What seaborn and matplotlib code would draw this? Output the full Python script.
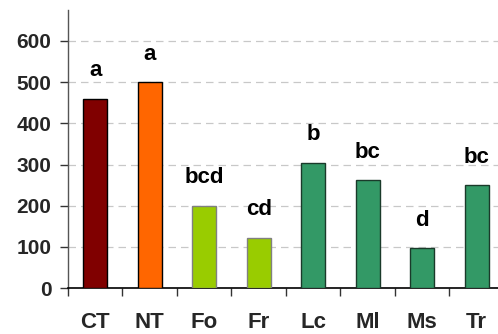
import numpy as np
import pandas as pd
import matplotlib
matplotlib.use("Agg")
import matplotlib.pyplot as plt
import seaborn as sns

# values
treatments = ["CT", "NT", "Fo", "Fr", "Lc", "Ml", "Ms", "Tr"]
values = [460, 500, 200, 122, 304, 262, 96, 249]
letters = ["a", "a", "bcd", "cd", "b", "bc", "d", "bc"]
colors = ["#800000", "#FF6600", "#99CC00", "#99CC00",
          "#339966", "#339966", "#339966", "#339966"]
edges = ["#000000", "#000000", "#808080", "#808080",
         "#1a3a2a", "#1a3a2a", "#1a3a2a", "#1a3a2a"]

df = pd.DataFrame({"treatment": treatments, "value": values})

sns.set_style("white")
plt.rcParams["font.family"] = ["Liberation Sans", "DejaVu Sans"]

fig = plt.figure(figsize=(4.98, 3.34), dpi=100)
ax = fig.add_axes([0.1365, 0.1377, 0.8755, 0.832])

sns.barplot(data=df, x="treatment", y="value", hue="treatment",
            palette=colors, saturation=1, width=0.44, legend=False,
            ax=ax, zorder=3)
for bar, ec in zip(ax.patches, edges):
    bar.set_edgecolor(ec)
    bar.set_linewidth(1.0)

for i, (v, lab) in enumerate(zip(values, letters)):
    ax.text(i, v + 68, lab, ha="center", va="center",
            fontsize=16, fontweight="bold", color="black")

ax.set_xlim(-0.5, 7.5)
ax.set_ylim(0, 675)
ax.set_yticks([0, 100, 200, 300, 400, 500, 600])
ax.yaxis.grid(True, color="#c8c8c8", linestyle=(0, (6, 4)), linewidth=0.9, zorder=0)
ax.set_axisbelow(True)

ax.set_xticks(np.arange(-0.5, 8), minor=True)
ax.tick_params(axis="x", which="major", length=0, pad=17, labelsize=16)
ax.tick_params(axis="x", which="minor", length=6, width=1, color="#333333",
               direction="out", bottom=True)
ax.tick_params(axis="y", length=6, width=1, color="#333333", direction="out",
               left=True, labelsize=15, pad=6)
for t in ax.get_xticklabels() + ax.get_yticklabels():
    t.set_fontweight("bold")

ax.set_xlabel("")
ax.set_ylabel("")
for s in ["top", "right"]:
    ax.spines[s].set_visible(False)
ax.spines["left"].set_color("#555555")
ax.spines["bottom"].set_color("#000000")
ax.spines["left"].set_linewidth(1.0)
ax.spines["bottom"].set_linewidth(1.2)

fig.savefig("out.png", dpi=100)
